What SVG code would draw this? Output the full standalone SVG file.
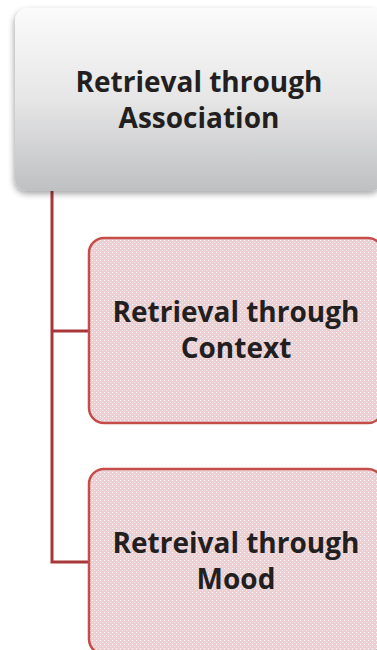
<svg xmlns="http://www.w3.org/2000/svg" width="377" height="650" viewBox="0 0 377 650">
  <defs>
    <linearGradient id="gray" x1="0" y1="0" x2="0" y2="1">
      <stop offset="0" stop-color="#fbfbfb"/>
      <stop offset="0.5" stop-color="#e6e6e7"/>
      <stop offset="1" stop-color="#bfc0c2"/>
    </linearGradient>
    <pattern id="dots" width="4" height="4" patternUnits="userSpaceOnUse">
      <rect width="4" height="4" fill="#eccfd2"/>
      <rect x="0" y="0" width="1" height="1" fill="#ffffff" fill-opacity="0.9"/>
      <rect x="2" y="2" width="1" height="1" fill="#ffffff" fill-opacity="0.6"/>
    </pattern>
    <filter id="shadow" x="-10%" y="-10%" width="120%" height="125%">
      <feGaussianBlur in="SourceAlpha" stdDeviation="3"/>
      <feOffset dx="-1" dy="3" result="b"/>
      <feComponentTransfer><feFuncA type="linear" slope="0.35"/></feComponentTransfer>
      <feMerge><feMergeNode/><feMergeNode in="SourceGraphic"/></feMerge>
    </filter>
  </defs>
  <style>
    .lbl { font-family: "Open Sans", "Liberation Sans", sans-serif; font-weight: bold; font-size: 28px; fill: #231f20; text-anchor: middle; }
    .child { fill: url(#dots); stroke: #c44d4a; stroke-width: 2.5; }
    .conn { fill: none; stroke: #a8373a; stroke-width: 3; }
  </style>
  <g id="connectors">
    <path class="conn" d="M52 191 V562 H89"/>
    <path class="conn" d="M52 331 H89"/>
  </g>
  <g id="root">
    <rect x="15" y="8" width="368" height="183" rx="13" fill="url(#gray)" filter="url(#shadow)"/>
    <text class="lbl" x="199" y="92">Retrieval through</text>
    <text class="lbl" x="199" y="128">Association</text>
  </g>
  <g id="context">
    <rect class="child" x="89" y="238" width="294" height="185" rx="15"/>
    <text class="lbl" x="236" y="322">Retrieval through</text>
    <text class="lbl" x="236" y="358">Context</text>
  </g>
  <g id="mood">
    <rect class="child" x="89" y="469" width="294" height="185" rx="15"/>
    <text class="lbl" x="236" y="553">Retreival through</text>
    <text class="lbl" x="236" y="589">Mood</text>
  </g>
</svg>
